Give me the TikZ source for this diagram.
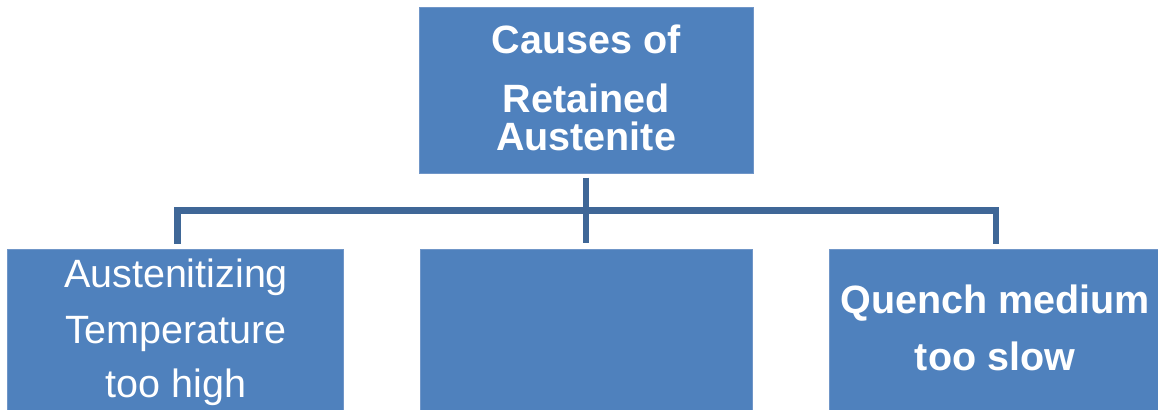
\documentclass[tikz,border=0pt]{standalone}
\usepackage{fontspec}
\setmainfont{Liberation Sans}
\definecolor{boxblue}{HTML}{4F81BD}
\definecolor{boxedge}{HTML}{7096C8}
\definecolor{linkblue}{HTML}{3F6797}
\begin{document}
\begin{tikzpicture}[x=1bp,y=1bp,
  cbox/.style={draw=boxedge,line width=1bp,fill=boxblue,rectangle,inner sep=0pt},
  lbl/.style={anchor=base,text=white,inner sep=0pt,font=\fontsize{39.5bp}{41bp}\selectfont},
  blbl/.style={lbl,font=\fontsize{39.5bp}{41bp}\selectfont\bfseries},
  conn/.style={draw=linkblue,line width=6.5bp}]
\useasboundingbox (0,0) rectangle (1158,409);
\fill[white] (0,0) rectangle (1158,409);
\clip (0,0) rectangle (1158,409);
% boxes
\node[cbox,minimum width=334bp,minimum height=165bp] (top) at (586,318.5) {};
\node[cbox,minimum width=335bp,minimum height=180bp] (L) at (175.5,70) {};
\node[cbox,minimum width=332bp,minimum height=180bp] (M) at (586,70) {};
\node[cbox,minimum width=341bp,minimum height=180bp] (R) at (999.5,70) {};
% connectors
\draw[conn] ([yshift=-4bp]top.south) -- ([yshift=6bp]M.north);
\draw[conn] ([xshift=2bp,yshift=5bp]L.north) |- ++(0,33) coordinate (bus)
  -| ([xshift=-3.5bp,yshift=5bp]R.north);
% labels
\node[blbl] (t1) at (586,356) {Causes of};
\node[blbl] (t2) at (586,297) {Retained};
\node[blbl] (t3) at (586,259) {Austenite};
\node[lbl] (l1) at (176,122) {Austenitizing};
\node[lbl] (l2) at (176,66) {Temperature};
\node[lbl] (l3) at (176,12) {too high};
\node[blbl] (r1) at (995,96) {Quench medium};
\node[blbl] (r2) at (995,39) {too slow};
\end{tikzpicture}
\end{document}
